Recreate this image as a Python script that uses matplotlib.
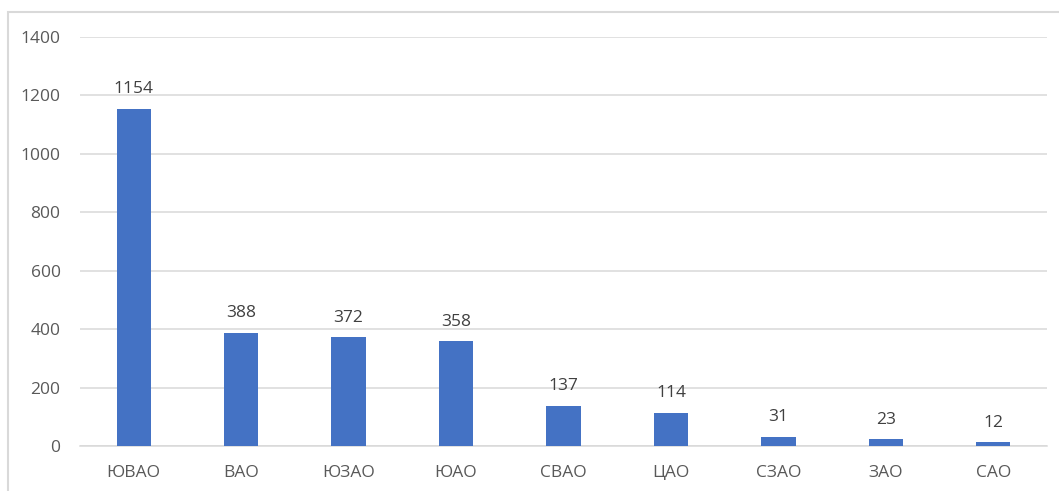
import matplotlib
matplotlib.use("Agg")
from matplotlib import pyplot as plt
import matplotlib.patches as patches

# Districts and counts
districts = ["ЮВАО", "ВАО", "ЮЗАО", "ЮАО", "СВАО", "ЦАО", "СЗАО", "ЗАО", "САО"]
counts = [1154, 388, 372, 358, 137, 114, 31, 23, 12]
y_ticks = [0, 200, 400, 600, 800, 1000, 1200, 1400]

text_color = "#595959"
grid_color = "#d9d9d9"
bar_color = "#4472C4"

plt.rcParams["font.family"] = ["Open Sans", "DejaVu Sans"]

fig = plt.figure(figsize=(10.59, 4.91), dpi=100)
ax = fig.add_axes([80 / 1059, 1 - 446 / 491, (1047 - 80) / 1059, (446 - 37) / 491])

x = range(len(districts))
bars = ax.bar(x, counts, width=0.32, color=bar_color, zorder=3)

for xi, v in zip(x, counts):
    ax.text(xi, v + 40, str(v), ha="center", va="bottom", fontsize=12.5, color="#404040")

ax.set_xlim(-0.5, len(districts) - 0.5)
ax.set_ylim(0, 1400)
ax.set_yticks(y_ticks)
ax.set_yticklabels([str(t) for t in y_ticks])
ax.set_xticks(list(x))
ax.set_xticklabels(districts)
ax.tick_params(axis="both", length=0, labelsize=12.5, labelcolor=text_color)
ax.tick_params(axis="y", pad=14)
ax.tick_params(axis="x", pad=14)
ax.yaxis.grid(True, color=grid_color, linewidth=1.1, zorder=0)
for side in ["top", "right", "left"]:
    ax.spines[side].set_visible(False)
ax.spines["bottom"].set_color(grid_color)
ax.spines["bottom"].set_linewidth(1.1)

# chart frame
frame = patches.Rectangle((8 / 1059, -0.1), 1.2, 1 - 12 / 491 + 0.1, transform=fig.transFigure,
                          fill=False, edgecolor=grid_color, linewidth=1.5)
fig.patches.append(frame)

fig.savefig("out.png", dpi=100)
